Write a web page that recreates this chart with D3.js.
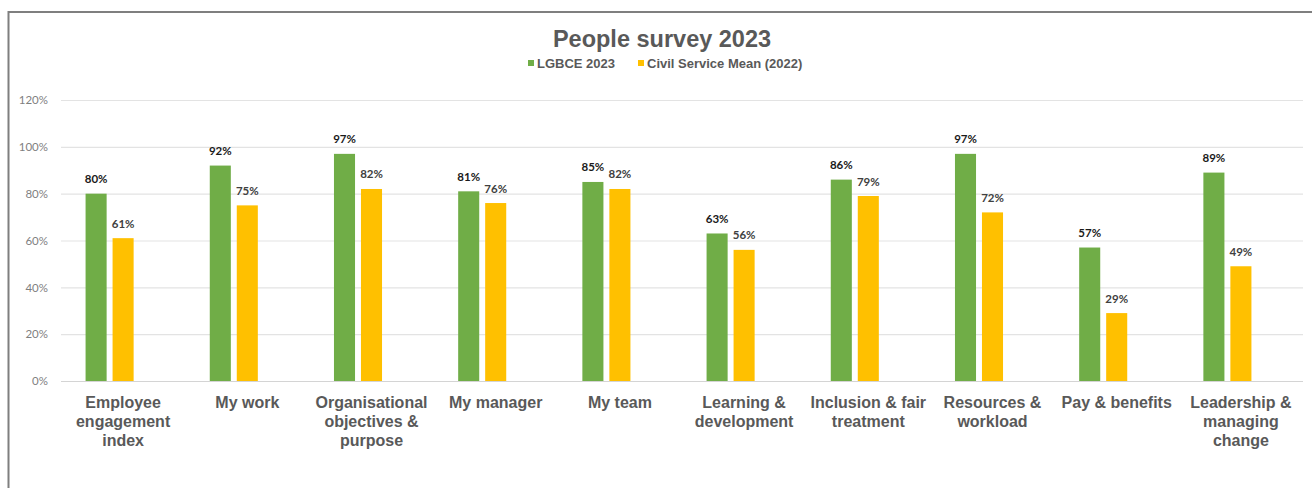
<!DOCTYPE html>
<html>
<head>
<meta charset="utf-8">
<script src="https://cdn.jsdelivr.net/npm/d3@7/dist/d3.min.js"></script>
<style>
  html, body { margin: 0; padding: 0; background: #fff; }
  svg { display: block; }
</style>
</head>
<body>
<svg id="chart" width="1312" height="488"></svg>
<script>
// People survey 2023: positive scores by theme
const categories = [
  "Employee engagement index",
  "My work",
  "Organisational objectives & purpose",
  "My manager",
  "My team",
  "Learning & development",
  "Inclusion & fair treatment",
  "Resources & workload",
  "Pay & benefits",
  "Leadership & managing change"
];
const seriesNames = ["LGBCE 2023", "Civil Service Mean (2022)"];
const lgbce2023 = [80, 92, 97, 81, 85, 63, 86, 97, 57, 89];
const civilServiceMean2022 = [61, 75, 82, 76, 82, 56, 79, 72, 29, 49];
const yTicks = [0, 20, 40, 60, 80, 100, 120];

const colors = ["#70AD47", "#FFC000"];
const labelColors = ["#1a1a1a", "#404040"];
const seriesValues = [lgbce2023, civilServiceMean2022];

const svg = d3.select("#chart");
const W = 1312, H = 488;
const plot = { left: 61, right: 1303, top: 100, bottom: 381 };

// Outer chart frame
svg.append("rect")
  .attr("x", 8.5).attr("y", 12).attr("width", W + 20).attr("height", H + 20)
  .attr("fill", "#fff").attr("stroke", "#7f7f7f").attr("stroke-width", 2);

const x0 = d3.scaleBand().domain(categories).range([plot.left, plot.right]).padding(0);
// three slots per group; the third is left empty so the pair sits left of centre
const x1 = d3.scaleBand().domain([0, 1, 2]).range([-40.5, 40.5])
  .paddingInner(0.22).paddingOuter(0.11);
const y = d3.scaleLinear().domain([0, 120]).range([plot.bottom, plot.top]);

// Gridlines and tick labels
const yAxis = d3.axisLeft(y).tickValues(yTicks).tickSize(-(plot.right - plot.left))
  .tickFormat(d => d + "%").tickPadding(13);
const gy = svg.append("g").attr("transform", `translate(${plot.left},0)`).call(yAxis);
gy.select(".domain").remove();
gy.selectAll(".tick line").attr("stroke", "#e3e3e3").attr("stroke-width", 1.2);
gy.selectAll(".tick text")
  .attr("fill", "#7f7f7f").attr("font-family", "Lato, 'Open Sans', sans-serif")
  .attr("font-size", "11.5px");
gy.selectAll(".tick").filter(d => d === 0).select("line").attr("stroke", "#d4d4d4");

// Bars
const groups = svg.append("g").selectAll("g")
  .data(categories).join("g")
  .attr("transform", d => `translate(${x0(d) + x0.bandwidth() / 2},0)`);

seriesValues.forEach((vals, si) => {
  groups.append("rect")
    .attr("x", x1(si))
    .attr("y", (d, i) => y(vals[i]))
    .attr("width", x1.bandwidth())
    .attr("height", (d, i) => y(0) - y(vals[i]))
    .attr("fill", colors[si]);

  groups.append("text")
    .attr("x", x1(si) + x1.bandwidth() / 2)
    .attr("y", (d, i) => y(vals[i]) - 10.5)
    .attr("text-anchor", "middle")
    .attr("font-family", "Lato, 'Open Sans', sans-serif")
    .attr("font-weight", "bold")
    .attr("font-size", "11.5px")
    .attr("fill", labelColors[si])
    .text((d, i) => vals[i] + "%");
});

// Category labels, wrapped to the band width
const xAxis = d3.axisBottom(x0).tickSize(0).tickPadding(0);
const gx = svg.append("g").attr("transform", `translate(0,${plot.bottom})`).call(xAxis);
gx.select(".domain").remove();
gx.selectAll(".tick text")
  .attr("fill", "#595959")
  .attr("font-family", "'Liberation Sans', Arial, sans-serif")
  .attr("font-weight", "bold")
  .attr("font-size", "16px")
  .attr("y", 0).attr("dy", null)
  .each(function (d) { wrap(d3.select(this), d, x0.bandwidth()); });

function wrap(text, str, width) {
  const words = str.split(/\s+/);
  text.text(null);
  let line = [];
  let lineNo = 0;
  let tspan = text.append("tspan").attr("x", 0).attr("y", 27);
  words.forEach(w => {
    line.push(w);
    tspan.text(line.join(" "));
    if (tspan.node().getComputedTextLength() > width && line.length > 1) {
      line.pop();
      tspan.text(line.join(" "));
      line = [w];
      lineNo++;
      tspan = text.append("tspan").attr("x", 0).attr("y", 27 + lineNo * 19).text(w);
    }
  });
}

// Title
svg.append("text")
  .attr("x", 662).attr("y", 47)
  .attr("text-anchor", "middle")
  .attr("font-family", "'Liberation Sans', Arial, sans-serif")
  .attr("font-weight", "bold").attr("font-size", "23.5px")
  .attr("fill", "#595959")
  .text("People survey 2023");

// Legend
const legendX = [528, 638];
const legend = svg.append("g");
seriesNames.forEach((name, i) => {
  legend.append("rect")
    .attr("x", legendX[i]).attr("y", 60).attr("width", 6).attr("height", 6)
    .attr("fill", colors[i]);
  legend.append("text")
    .attr("x", legendX[i] + 9).attr("y", 68)
    .attr("font-family", "'Liberation Sans', Arial, sans-serif")
    .attr("font-weight", "bold").attr("font-size", "13px")
    .attr("fill", "#595959")
    .text(name);
});
</script>
</body>
</html>
